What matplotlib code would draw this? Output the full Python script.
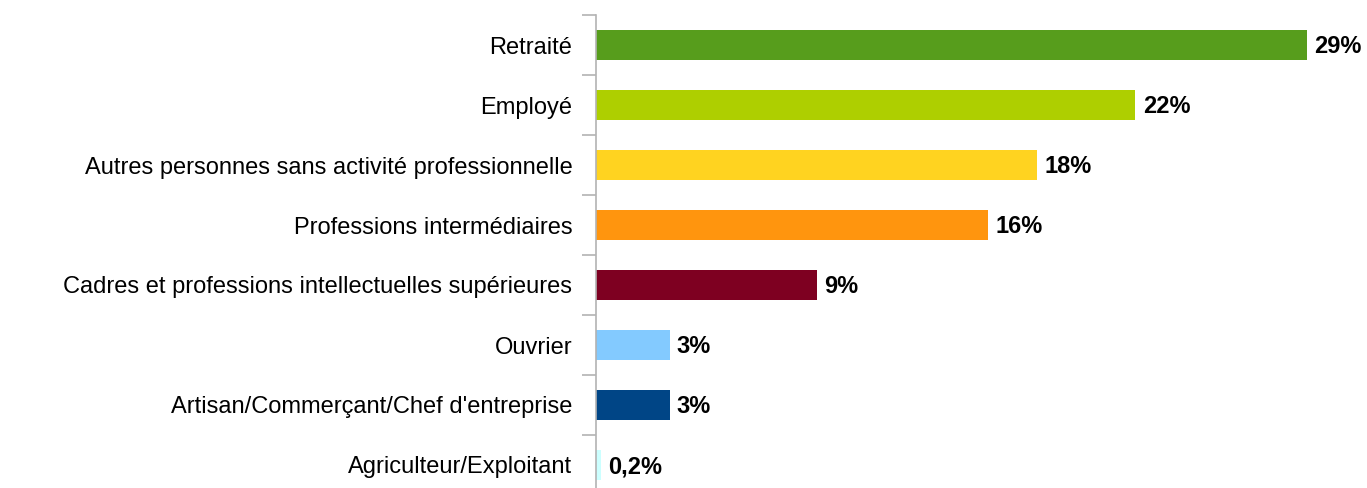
import matplotlib.pyplot as plt

plt.rcParams['font.family'] = ['Liberation Sans', 'DejaVu Sans']

categories = ["Retraité", "Employé", "Autres personnes sans activité professionnelle",
              "Professions intermédiaires", "Cadres et professions intellectuelles supérieures",
              "Ouvrier", "Artisan/Commerçant/Chef d'entreprise", "Agriculteur/Exploitant"]
values = [29, 22, 18, 16, 9, 3, 3, 0.2]
value_labels = ["29%", "22%", "18%", "16%", "9%", "3%", "3%", "0,2%"]
colors = ["#579D1C", "#AECF00", "#FFD320", "#FF950E", "#7E0021", "#83CAFF", "#004586", "#CCFFFF"]

fig = plt.figure(figsize=(13.67, 4.88), dpi=100)
ax = fig.add_axes([596 / 1367, -7 / 488, 1 - 596 / 1367 - 0.008, 480 / 488])

ypos = list(range(len(categories)))
ax.barh(ypos, values, height=0.5, color=colors)
ax.set_ylim(len(categories) - 0.5, -0.5)
ax.set_xlim(0, 31)

for y, v, lab in zip(ypos, values, value_labels):
    ax.text(v + 0.3, y + 0.03, lab, va='center', ha='left', fontsize=17, fontweight='bold')

ax.set_yticks(ypos)
ax.set_yticklabels(categories, fontsize=17)
ax.tick_params(axis='y', length=0, pad=17)
ax.set_yticks([i - 0.5 for i in range(len(categories) + 1)], minor=True)
ax.tick_params(axis='y', which='minor', length=10, color='#b3b3b3', width=1.2)
ax.set_xticks([])
for s in ['top', 'right', 'bottom']:
    ax.spines[s].set_visible(False)
ax.spines['left'].set_color('#b3b3b3')
ax.spines['left'].set_linewidth(1.2)

fig.savefig('out.png', dpi=100)
